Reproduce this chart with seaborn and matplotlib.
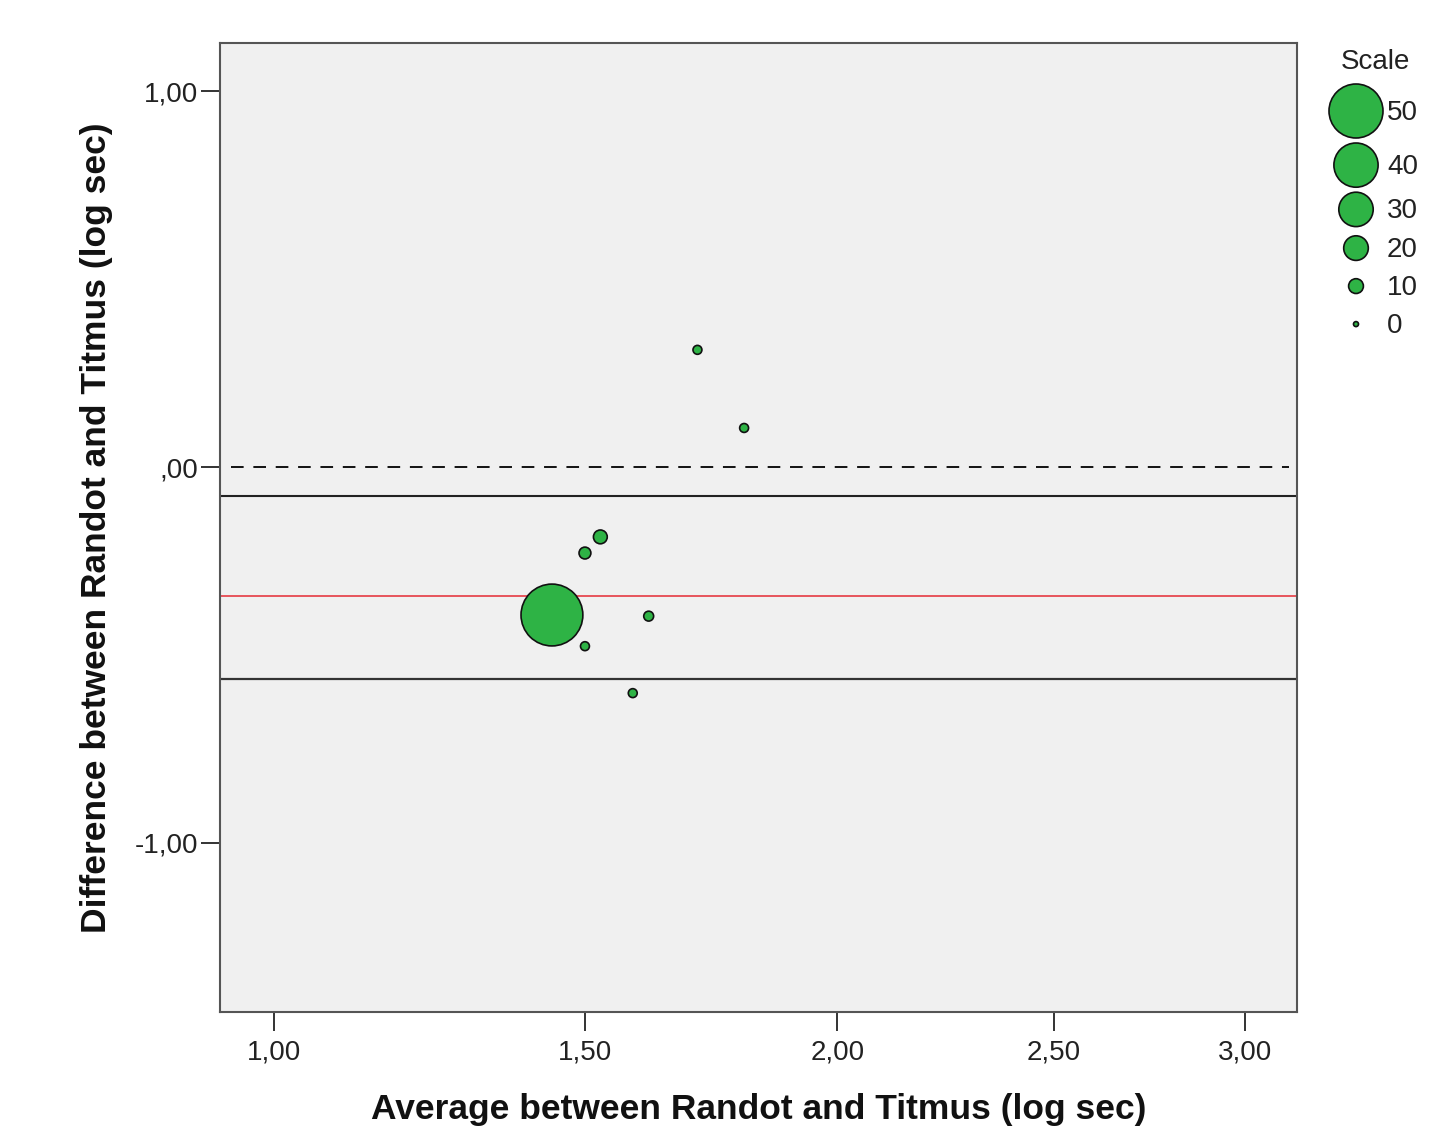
import numpy as np
import pandas as pd
import matplotlib
matplotlib.use("Agg")
import matplotlib.pyplot as plt
import seaborn as sns

# ---- data ----
avg_vals = [1.712, 1.805, 1.528, 1.50, 1.441, 1.618, 1.50, 1.588]
diff_vals = [0.312, 0.104, -0.186, -0.229, -0.394, -0.397, -0.477, -0.602]
scale_vals = [4, 4, 9, 7, 58, 5, 4, 4]

bias = -0.343
loa_upper = -0.077
loa_lower = -0.565

x_ticks = [1.0, 1.5, 2.0, 2.5, 3.0]
x_ticklabels = ["1,00", "1,50", "2,00", "2,50", "3,00"]
y_ticks = [1.0, 0.0, -1.0]
y_ticklabels = ["1,00", ",00", "-1,00"]
legend_vals = [50, 40, 30, 20, 10, 0]

xlabel = "Average between Randot and Titmus (log sec)"
ylabel = "Difference between Randot and Titmus (log sec)"

GREEN = "#2eb345"
DPI = 100


def diam_px(v):
    return 5 + 0.98 * v


def area_pt(v):
    d_pt = diam_px(v) * 72.0 / DPI
    return d_pt ** 2


df = pd.DataFrame({"avg": avg_vals, "diff": diff_vals, "Scale": scale_vals})

sns.set_theme(style="white")
plt.rcParams["font.family"] = ["Liberation Sans", "DejaVu Sans"]

W, H = 1454, 1128
fig = plt.figure(figsize=(W / DPI, H / DPI), dpi=DPI)
ax = fig.add_axes([220 / W, 1 - 1012 / H, (1297 - 220) / W, (1012 - 43) / H])
ax.set_facecolor("#f0f0f0")

p = 0.39
ax.set_xscale("function", functions=(lambda x: np.sign(x) * np.abs(x) ** p,
                                     lambda x: np.sign(x) * np.abs(x) ** (1 / p)))
ax.set_xlim(0.9255, 3.146)
ax.set_ylim(-1.451, 1.129)

# reference lines
ax.axhline(0, xmin=0.01, xmax=0.993, color="#111111", lw=1.4, dashes=(6.5, 5), zorder=1)
ax.axhline(loa_upper, color="#222222", lw=1.5, zorder=1)
ax.axhline(loa_lower, color="#333333", lw=1.6, zorder=1)
ax.axhline(bias, color="#e63a42", lw=1.2, zorder=1)

sizes = {v: area_pt(v) for v in sorted(set(scale_vals))}
sns.scatterplot(data=df, x="avg", y="diff", size="Scale", sizes=sizes,
                color=GREEN, edgecolor="#111111", linewidth=1.2,
                legend=False, ax=ax, zorder=3)

ax.set_xticks(x_ticks)
ax.set_xticklabels(x_ticklabels)
ax.set_yticks(y_ticks)
ax.set_yticklabels(y_ticklabels)
ax.minorticks_off()
ax.tick_params(axis="both", direction="out", length=13.5, width=1.4,
               color="#333333", labelsize=20, labelcolor="#222222", pad=2,
               bottom=True, left=True)
ax.tick_params(axis="x", pad=6)

for s in ax.spines.values():
    s.set_color("#555555")
    s.set_linewidth(1.5)

ax.set_xlabel(xlabel, fontsize=25.5, fontweight="bold", color="#111111")
ax.set_ylabel(ylabel, fontsize=25.5, fontweight="bold", color="#111111")
ax.xaxis.set_label_coords(0.5, (1012 - 1093) / 969)
ax.xaxis.label.set_va("top")
ax.yaxis.set_label_coords((113 - 220) / 1077, 0.5)

# ---- size legend (custom, in pixel coordinates) ----
lax = fig.add_axes([1300 / W, 1 - 360 / H, (1454 - 1300) / W, (360 - 40) / H])
row_h = [max(38, diam_px(v) + 5) for v in legend_vals]
centers = []
cur = 111 - row_h[0] / 2
for h in row_h:
    centers.append(cur + h / 2)
    cur += h
leg_df = pd.DataFrame({"x": [1356] * len(legend_vals), "y": centers, "Scale": legend_vals})
sns.scatterplot(data=leg_df, x="x", y="y", size="Scale",
                sizes={v: area_pt(v) for v in legend_vals},
                color=GREEN, edgecolor="#111111", linewidth=1.2,
                legend=False, ax=lax, clip_on=False)
lax.set_xlim(1300, 1454)
lax.set_ylim(360, 40)
lax.axis("off")
for v, cy in zip(legend_vals, centers):
    lax.text(1387, cy + 2, str(v), fontsize=20, color="#222222", ha="left", va="center")
lax.text(1375, 62, "Scale", fontsize=20, color="#222222", ha="center", va="center")

fig.savefig("out.png", dpi=DPI)
